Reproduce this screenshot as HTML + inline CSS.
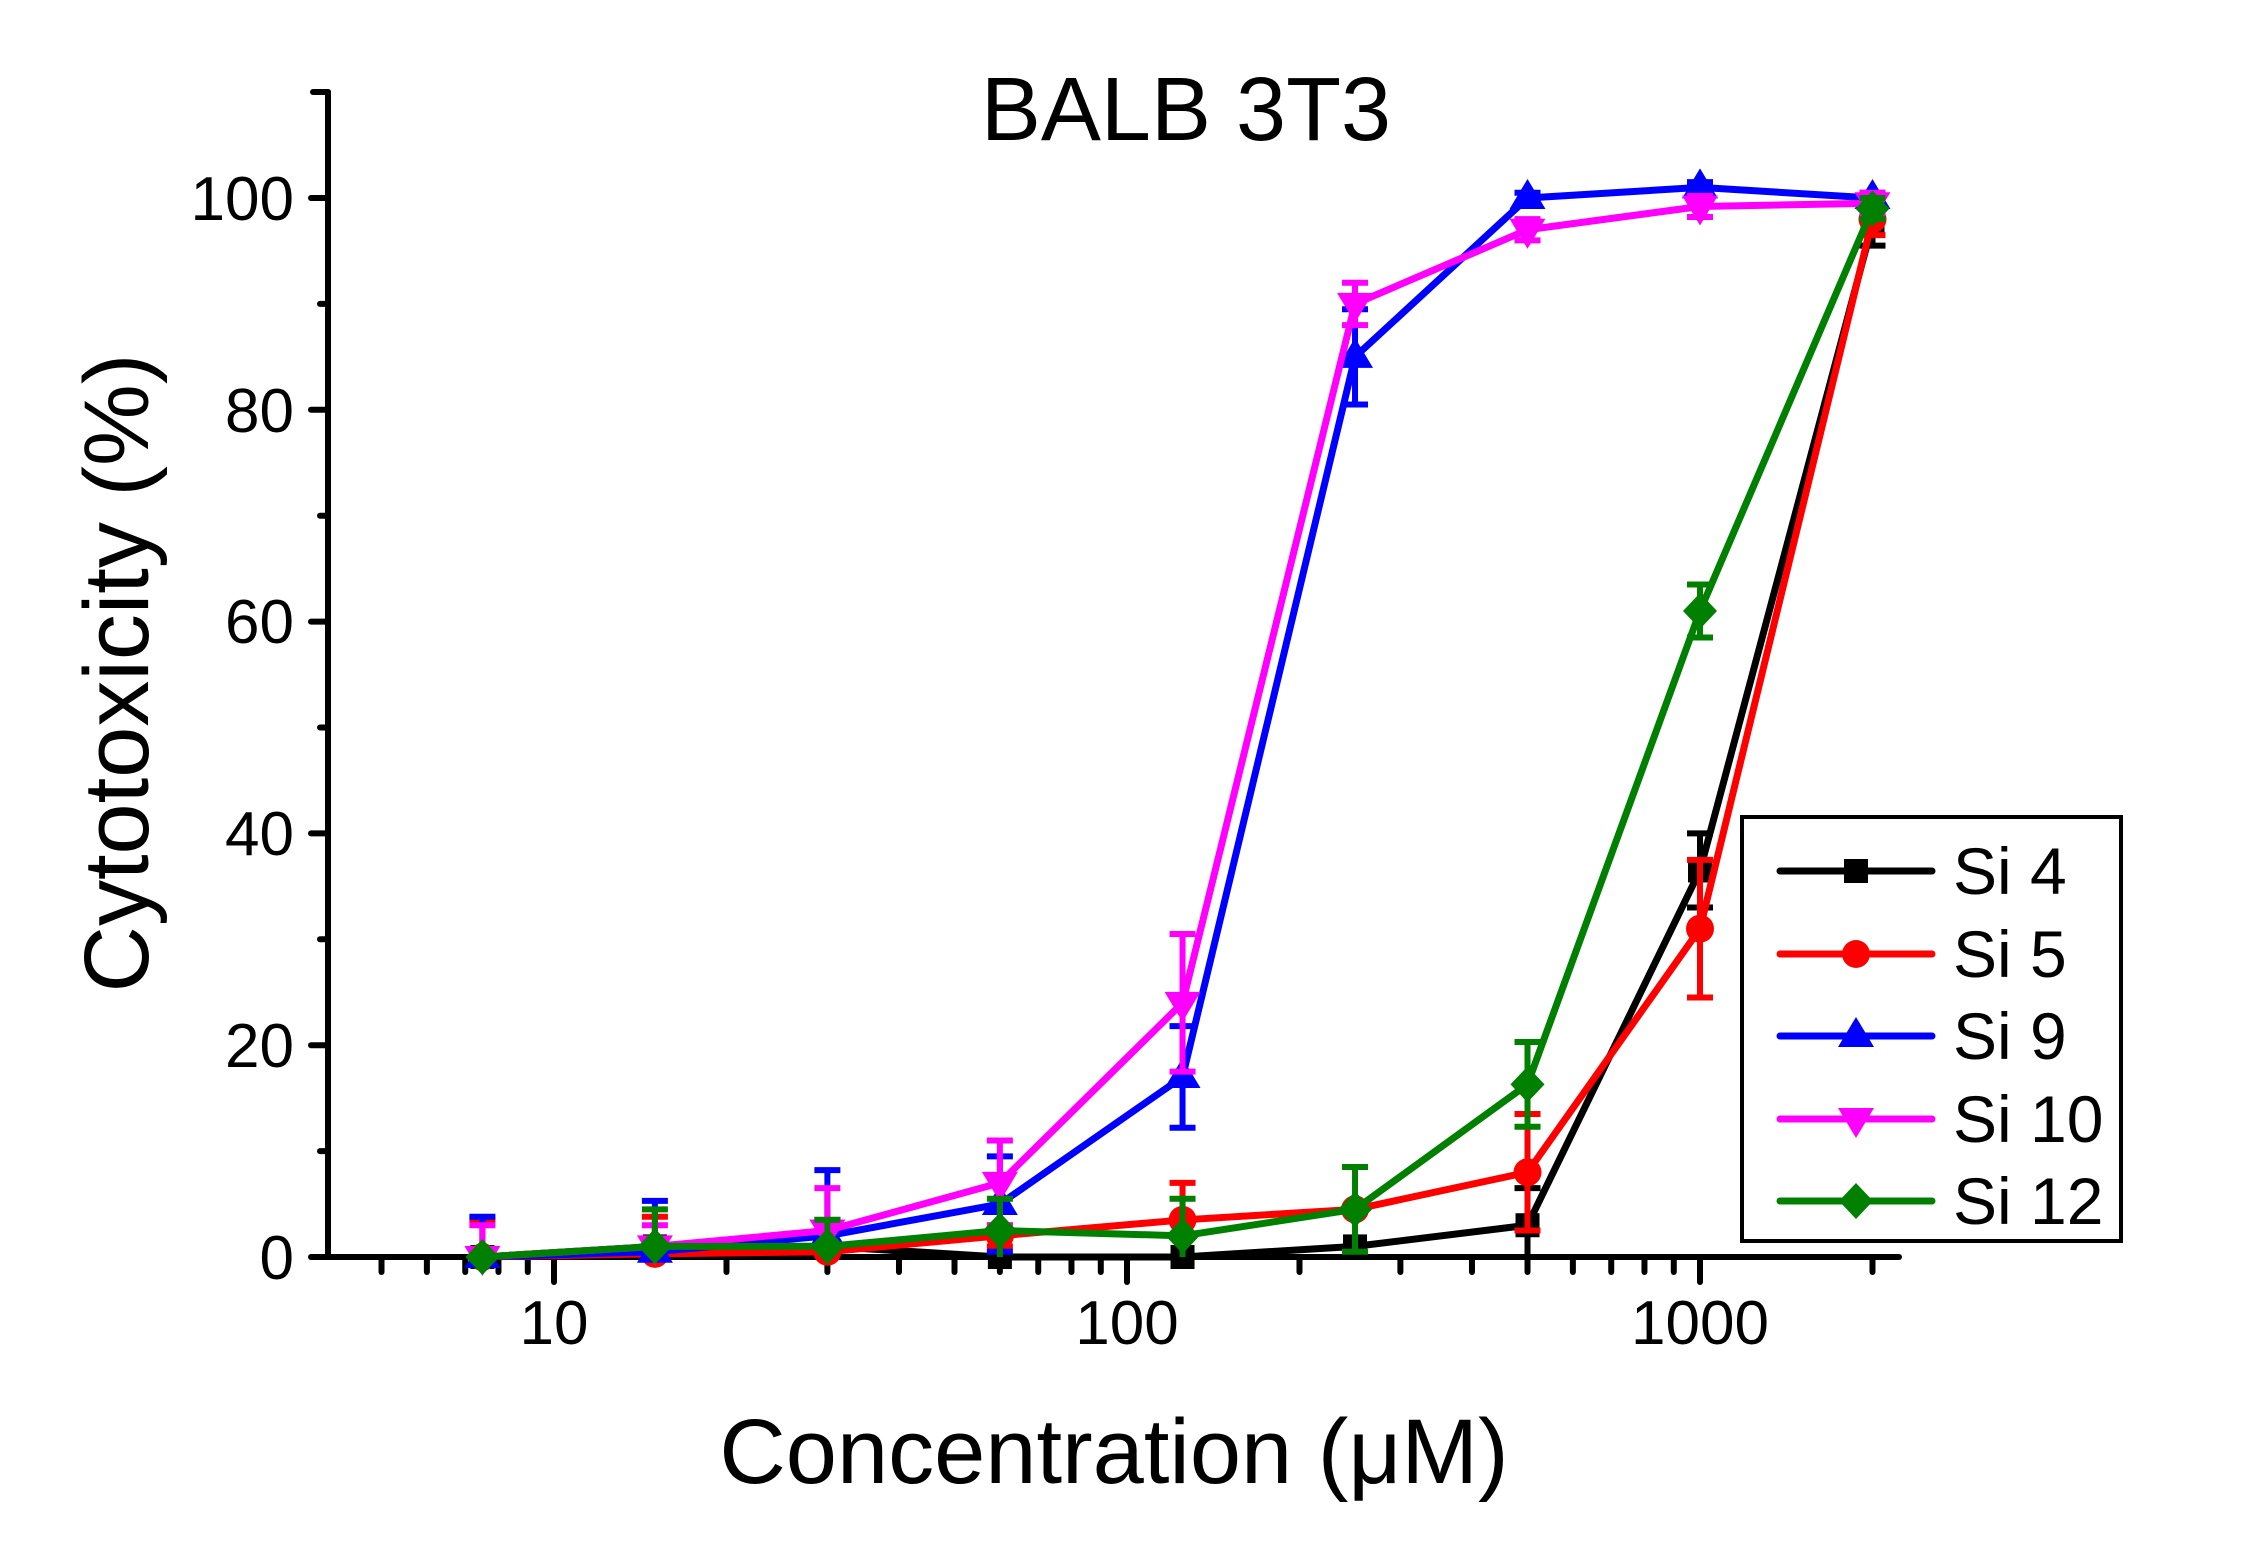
<!DOCTYPE html>
<html><head><meta charset="utf-8"><style>
html,body{margin:0;padding:0;background:#fff}
svg{display:block}
text{font-family:"Liberation Sans",Arial,sans-serif;fill:#000}
</style></head><body>
<svg id="s" width="2266" height="1560" viewBox="0 0 2266 1560" xmlns="http://www.w3.org/2000/svg">
<g id="axes" stroke="#000" stroke-width="6" stroke-linecap="round" fill="none"></g>
<g id="data"></g>
<text x="1186" y="140" font-size="90" text-anchor="middle">BALB 3T3</text>
<g font-size="62" text-anchor="end">
<text x="294" y="1279">0</text>
<text x="294" y="1067">20</text>
<text x="294" y="855">40</text>
<text x="294" y="643">60</text>
<text x="294" y="432">80</text>
<text x="294" y="220">100</text>
</g>
<g font-size="62" text-anchor="middle">
<text x="554" y="1344">10</text>
<text x="1127" y="1344">100</text>
<text x="1700" y="1344">1000</text>
</g>
<text x="1114" y="1483" font-size="92" text-anchor="middle">Concentration (μM)</text>
<text transform="translate(148,673) rotate(-90)" font-size="92" text-anchor="middle">Cytotoxicity (%)</text>
<rect x="1742" y="817" width="379" height="424" fill="#fff" stroke="#000" stroke-width="4"/>
<g font-size="66">
<text x="1953" y="894">Si 4</text>
<text x="1953" y="977">Si 5</text>
<text x="1953" y="1059">Si 9</text>
<text x="1953" y="1142">Si 10</text>
<text x="1953" y="1224">Si 12</text>
</g>
<g id="leg"></g>
</svg>
<script>
var NS="http://www.w3.org/2000/svg";
function el(p,t,a){var e=document.createElementNS(NS,t);for(var k in a)e.setAttribute(k,a[k]);p.appendChild(e);return e;}
var X0=328,Y0=1257,XE=1899;
function xs(v){return 554+(Math.log10(v)-1)*573;}
function ys(v){return Y0-v*10.59;}
var ax=document.getElementById('axes');
el(ax,'line',{x1:X0,y1:Y0,x2:XE,y2:Y0});
el(ax,'line',{x1:X0,y1:Y0,x2:X0,y2:92});
el(ax,'line',{x1:313,y1:92,x2:X0,y2:92});
for(var v=0;v<=100;v+=20){var y=ys(v);el(ax,'line',{x1:311,y1:y,x2:X0,y2:y});}
for(var v=10;v<=100;v+=20){var y=ys(v);el(ax,'line',{x1:X0-8,y1:y,x2:X0,y2:y});}
for(var d=1;d<=1000;d*=10){for(var m=1;m<10;m++){var v=d*m;var x=xs(v);if(x<X0-1||x>XE+1)continue;var maj=(m==1);el(ax,'line',{x1:x,y1:Y0,x2:x,y2:Y0+(maj?25:15)});}}
var xv=[7.5,15,30,60,125,250,500,1000,2000];
var S=[
{c:"#000",m:"sq",y:[0,1,1,0,0,1,3,36.5,97.5],e:[0,0,2.5,0,0,0,3.5,3.5,2]},
{c:"#f00",m:"ci",y:[0,0.3,0.5,2,3.5,4.5,8,31,98],e:[3.5,3.5,2,1,3.5,0,5.5,6.5,1.5]},
{c:"#00f",m:"tu",y:[0,0.5,2,5,17,85,100,101,100],e:[3.8,4.8,6.2,4.5,4.8,4.5,0.5,0.5,0.5]},
{c:"#f0f",m:"td",y:[0,1,2.5,7,24,90,97,99.2,99.5],e:[3,2,4,4,6.5,2,1,1,1]},
{c:"#008000",m:"di",y:[0,1,1,2.5,2,4.5,16.3,61,99],e:[0,3.5,2.5,3,3.5,4,4,2.5,1]}
];
function mk(g,t,x,y,c){
 if(t=="sq")el(g,'rect',{x:x-12,y:y-12,width:24,height:24,fill:c});
 if(t=="ci")el(g,'circle',{cx:x,cy:y,r:14,fill:c});
 if(t=="tu")el(g,'polygon',{points:(x)+","+(y-19)+" "+(x-18)+","+(y+11)+" "+(x+18)+","+(y+11),fill:c});
 if(t=="td")el(g,'polygon',{points:(x)+","+(y+19)+" "+(x-18)+","+(y-11)+" "+(x+18)+","+(y-11),fill:c});
 if(t=="di")el(g,'polygon',{points:x+","+(y-18)+" "+(x+17)+","+y+" "+x+","+(y+18)+" "+(x-17)+","+y,fill:c});
}
var dg=document.getElementById('data');
S.forEach(function(s){
 var g=el(dg,'g',{});
 var pts=xv.map(function(v,i){return xs(v)+","+ys(s.y[i]);}).join(" ");
 for(var i=0;i<9;i++){if(!s.e[i])continue;var x=xs(xv[i]);var a=ys(s.y[i]+s.e[i]),b=ys(Math.max(0,s.y[i]-s.e[i]));
  el(g,'line',{x1:x,y1:a,x2:x,y2:b,stroke:s.c,"stroke-width":6});
  el(g,'line',{x1:x-13,y1:a,x2:x+13,y2:a,stroke:s.c,"stroke-width":6});
  if(s.y[i]-s.e[i]>0)el(g,'line',{x1:x-13,y1:b,x2:x+13,y2:b,stroke:s.c,"stroke-width":6});}
 el(g,'polyline',{points:pts,fill:"none",stroke:s.c,"stroke-width":7,"stroke-linejoin":"round"});
 for(var i=0;i<9;i++)mk(g,s.m,xs(xv[i]),ys(s.y[i]),s.c);
});
var lg=document.getElementById('leg');var ly=[871,954,1036,1119,1201];
S.forEach(function(s,i){el(lg,'line',{x1:1780,y1:ly[i],x2:1932,y2:ly[i],stroke:s.c,"stroke-width":7,"stroke-linecap":"round"});mk(lg,s.m,1856,ly[i],s.c);});
</script>
</body></html>
